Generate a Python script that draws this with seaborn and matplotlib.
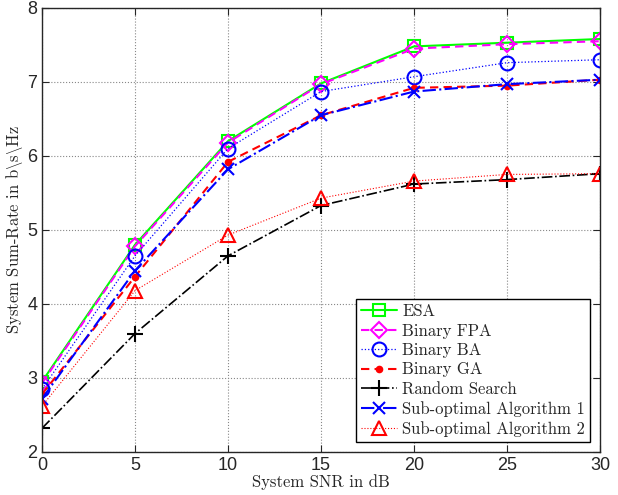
import matplotlib.pyplot as plt
import seaborn as sns
import pandas as pd

snr = [0, 5, 10, 15, 20, 25, 30]

esa = [2.95, 4.80, 6.20, 6.98, 7.48, 7.53, 7.58]
binary_fpa = [2.93, 4.78, 6.18, 6.97, 7.45, 7.51, 7.55]
binary_ba = [2.85, 4.65, 6.10, 6.87, 7.07, 7.26, 7.30]
binary_ga = [2.78, 4.37, 5.92, 6.55, 6.92, 6.95, 7.03]
random_search = [2.32, 3.60, 4.65, 5.33, 5.62, 5.68, 5.76]
sub_opt_1 = [2.72, 4.45, 5.82, 6.55, 6.87, 6.97, 7.03]
sub_opt_2 = [2.62, 4.18, 4.93, 5.43, 5.66, 5.75, 5.76]

names = ["ESA", "Binary FPA", "Binary BA", "Binary GA", "Random Search",
         "Sub-optimal Algorithm 1", "Sub-optimal Algorithm 2"]
series = [esa, binary_fpa, binary_ba, binary_ga, random_search, sub_opt_1, sub_opt_2]

styles = {
    "ESA": dict(color="#00ff00", ls="-", marker="s", lw=1.5, ms=8, mfc="none"),
    "Binary FPA": dict(color="#ff00ff", ls=(0, (4, 2.5)), marker="D", lw=1.5, ms=8, mfc="none"),
    "Binary BA": dict(color="#0000ff", ls=":", marker="o", lw=0.9, ms=10, mfc="none"),
    "Binary GA": dict(color="#ff0000", ls=(0, (4, 2.5)), marker="o", lw=1.5, ms=4, mfc="#ff0000"),
    "Random Search": dict(color="black", ls="-.", marker="+", lw=1.2, ms=11, mfc="none"),
    "Sub-optimal Algorithm 1": dict(color="#0000ff", ls="-.", marker="x", lw=1.5, ms=8, mfc="none"),
    "Sub-optimal Algorithm 2": dict(color="#ff0000", ls=":", marker="^", lw=0.8, ms=10, mfc="none"),
}

sns.set_style("ticks")
plt.rcParams["font.family"] = ["cmr10"]
plt.rcParams["mathtext.fontset"] = "cm"
plt.rcParams["axes.unicode_minus"] = False
plt.rcParams["axes.formatter.use_mathtext"] = False

fig = plt.figure(figsize=(6.18, 4.95), dpi=100)
ax = fig.add_axes([0.068, 0.087, 0.903, 0.897])

for name, vals in zip(names, series):
    df = pd.DataFrame({"snr": snr, "rate": vals})
    st = styles[name]
    sns.lineplot(data=df, x="snr", y="rate", ax=ax, label=name,
                 color=st["color"], linewidth=st["lw"],
                 marker=st["marker"], markersize=st["ms"],
                 markerfacecolor=st["mfc"], markeredgecolor=st["color"],
                 markeredgewidth=1.5)
    ax.lines[-1].set_linestyle(st["ls"])

ax.set_xlim(0, 30)
ax.set_ylim(2, 8)
ax.set_xticks(snr)
ax.set_yticks([2, 3, 4, 5, 6, 7, 8])
ax.tick_params(direction="in", labelsize=13, top=True, right=True, length=5)
for lab in ax.get_xticklabels() + ax.get_yticklabels():
    lab.set_family(["Liberation Sans", "DejaVu Sans"])
ax.grid(True, color="#888888", linestyle=":", linewidth=0.8)
for sp in ax.spines.values():
    sp.set_linewidth(1.0)

ax.set_xlabel("System SNR in dB", fontsize=12, labelpad=0)
ax.set_ylabel(r"System Sum-Rate in b$\backslash$s$\backslash$Hz", fontsize=12)
ax.yaxis.set_label_coords(-0.03, 0.5)

leg = ax.legend(loc="lower right", prop={"family": "cmr10", "size": 12},
                fancybox=False, framealpha=1, edgecolor="black",
                handlelength=2.2, handletextpad=0.3, labelspacing=0.25, borderpad=0.3,
                borderaxespad=0.6)
leg.get_frame().set_linewidth(1.0)

fig.savefig("out.png", dpi=100)
